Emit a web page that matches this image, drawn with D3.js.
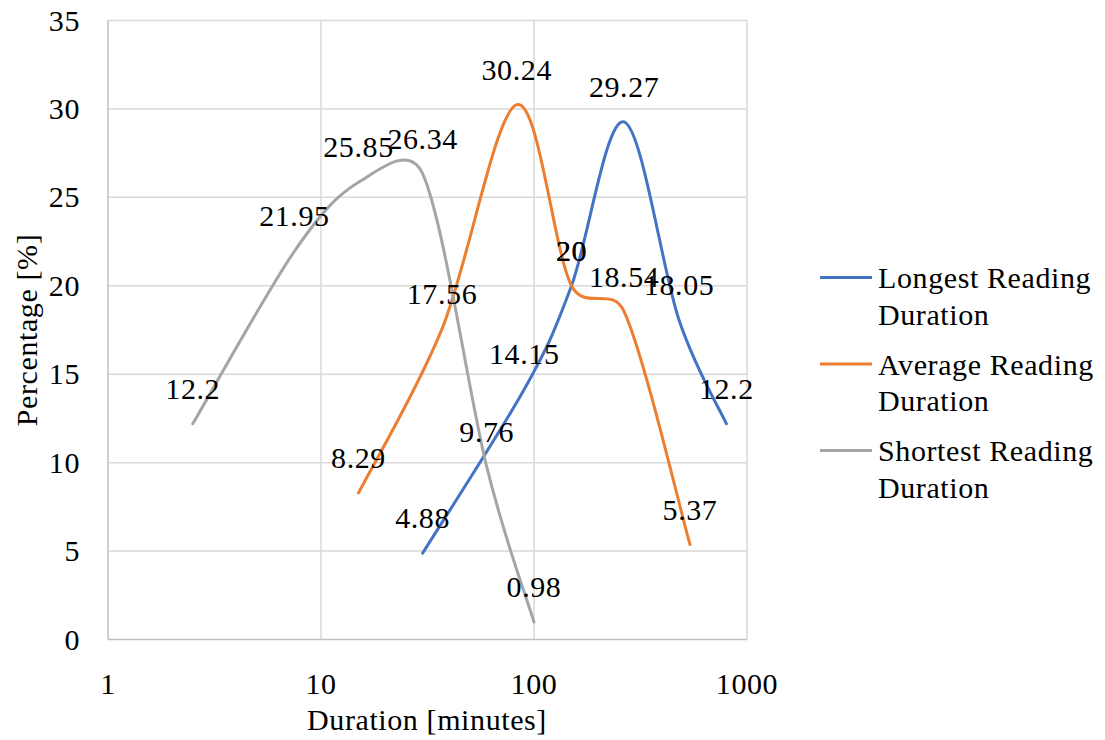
<!DOCTYPE html>
<html><head><meta charset="utf-8">
<script src="https://cdn.jsdelivr.net/npm/d3@7/dist/d3.min.js"></script>
</head><body style="margin:0;background:#fff">
<svg id="chart" width="1105" height="740"></svg>
<script>
const seriesNames = ["Longest Reading Duration", "Average Reading Duration", "Shortest Reading Duration"];
const longestX = [30, 90, 150, 265, 480, 800];
const longestY = [4.88, 14.15, 20, 29.27, 18.05, 12.2];
const averageX = [15, 37, 83, 150, 265, 540];
const averageY = [8.29, 17.56, 30.24, 20, 18.54, 5.37];
const shortestX = [2.5, 7.5, 15, 30, 60, 100];
const shortestY = [12.2, 21.95, 25.85, 26.34, 9.76, 0.98];
const xTicks = [1, 10, 100, 1000];
const yTicks = [0, 5, 10, 15, 20, 25, 30, 35];
const colors = ["#4472C4", "#ED7D31", "#A5A5A5"];

const series = [
  {name: seriesNames[0], xs: longestX, ys: longestY, color: colors[0]},
  {name: seriesNames[1], xs: averageX, ys: averageY, color: colors[1]},
  {name: seriesNames[2], xs: shortestX, ys: shortestY, color: colors[2]}
];

const svg = d3.select("#chart");
const x = d3.scaleLog().domain([1, 1000]).range([108, 747]);
const y = d3.scaleLinear().domain([0, 35]).range([639.5, 20.5]);
const FS = 30;

function txt(sel) {
  return sel.attr("font-family", "Liberation Serif").attr("font-size", FS)
    .attr("letter-spacing", 0.6).attr("fill", "#000");
}

// gridlines
const g = svg.append("g");
g.selectAll(".hg").data(yTicks.filter(t => t > 0)).join("line")
  .attr("x1", x(1)).attr("x2", x(1000)).attr("y1", d => y(d)).attr("y2", d => y(d))
  .attr("stroke", "#d9d9d9").attr("stroke-width", 1.5);
g.selectAll(".vg").data(xTicks.filter(t => t > 1)).join("line")
  .attr("x1", d => x(d)).attr("x2", d => x(d)).attr("y1", y(0)).attr("y2", y(35))
  .attr("stroke", "#d9d9d9").attr("stroke-width", 1.5);
g.append("line").attr("x1", x(1)).attr("x2", x(1)).attr("y1", y(0)).attr("y2", y(35)).attr("stroke", "#bfbfbf").attr("stroke-width", 1.5);
g.append("line").attr("x1", x(1)).attr("x2", x(1000)).attr("y1", y(0)).attr("y2", y(0)).attr("stroke", "#bfbfbf").attr("stroke-width", 1.5);

// tick labels
txt(svg.append("g").selectAll("text").data(yTicks).join("text"))
  .attr("x", 80).attr("y", d => y(d) + 10).attr("text-anchor", "end").text(d => d);
txt(svg.append("g").selectAll("text").data(xTicks).join("text"))
  .attr("x", d => x(d)).attr("y", 694).attr("text-anchor", "middle").text(d => d);

// axis titles
txt(svg.append("text")).attr("x", 427).attr("y", 730).attr("text-anchor", "middle").text("Duration [minutes]");
txt(svg.append("text")).attr("transform", "translate(37,330) rotate(-90)").attr("text-anchor", "middle").text("Percentage [%]");

// Excel-style smoothed Bezier path built from scaled points
function excelSmooth(pts) {
  const p = d3.path();
  const n = pts.length;
  p.moveTo(pts[0][0], pts[0][1]);
  const dist = (a, b) => Math.hypot(b[0] - a[0], b[1] - a[1]);
  for (let i = 0; i < n - 1; i++) {
    const p0 = pts[Math.max(i - 1, 0)], p1 = pts[i], p2 = pts[i + 1], p3 = pts[Math.min(i + 2, n - 1)];
    const d12 = dist(p1, p2), d02 = dist(p0, p2), d13 = dist(p1, p3);
    let f1 = 1 / 6, f2 = 1 / 6;
    if (d02 / 6 >= d12 / 2) f1 = (d12 / 2) / d02;
    if (d13 / 6 >= d12 / 2) f2 = (d12 / 2) / d13;
    const b1 = [p1[0] + (p2[0] - p0[0]) * f1, p1[1] + (p2[1] - p0[1]) * f1];
    const b2 = [p2[0] - (p3[0] - p1[0]) * f2, p2[1] - (p3[1] - p1[1]) * f2];
    p.bezierCurveTo(b1[0], b1[1], b2[0], b2[1], p2[0], p2[1]);
  }
  return p.toString();
}

series.forEach(s => {
  const pts = s.xs.map((v, i) => [x(v), y(s.ys[i])]);
  svg.append("path").attr("d", excelSmooth(pts)).attr("fill", "none")
    .attr("stroke", s.color).attr("stroke-width", 3).attr("stroke-linecap", "round");
});
// data labels
series.forEach(s => {
  const pts = s.xs.map((v, i) => [v, s.ys[i]]);
  txt(svg.append("g").selectAll("text").data(pts).join("text"))
    .attr("x", d => x(d[0])).attr("y", d => y(d[1]) - 25).attr("text-anchor", "middle")
    .text(d => d[1]);
});

// legend
const legend = svg.append("g");
series.forEach((s, i) => {
  const by = 277.5 + i * 86.5;
  legend.append("line").attr("x1", 820).attr("x2", 872).attr("y1", by).attr("y2", by)
    .attr("stroke", s.color).attr("stroke-width", 3);
  const words = s.name.split(" ");
  const t = txt(legend.append("text"));
  t.append("tspan").attr("x", 878).attr("y", by + 10.5).text(words.slice(0, 2).join(" "));
  t.append("tspan").attr("x", 878).attr("y", by + 47).text(words.slice(2).join(" "));
});
</script>
</body></html>
